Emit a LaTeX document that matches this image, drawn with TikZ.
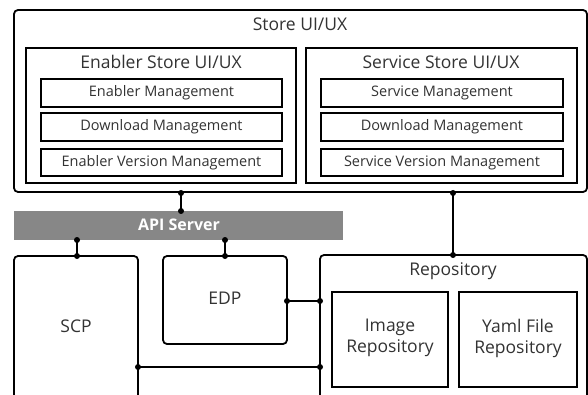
\documentclass[tikz,border=0pt]{standalone}
\usepackage{fontspec}
\setmainfont{Open Sans}
\begin{document}
\begin{tikzpicture}[x=1pt,y=-1pt,
  outerbox/.style={draw=black,line width=1.8pt,rounded corners=4pt},
  framebox/.style={draw=black,line width=2.2pt},
  itembox/.style={draw=black,line width=2.6pt},
  lbl/.style={text=black!80,font=\fontsize{14.5}{17}\selectfont},
  ttl/.style={text=black!80,font=\fontsize{17.5}{21}\selectfont},
  dot/.style={circle,fill=black,inner sep=0pt,minimum size=6pt},
  wire/.style={line width=1.8pt}]
\useasboundingbox (0,0) rectangle (588,395);
\fill[white] (0,0) rectangle (588,395);
\begin{scope}
\clip (0,0) rectangle (588,395);
% Store UI/UX frame
\draw[outerbox] (14,10) rectangle (587,192);
\node[ttl] (store) at (300,24) {Store UI/UX};
% Enabler store
\draw[framebox] (26,48) rectangle (296,183);
\node[ttl] (enst) at (161,62) {Enabler Store UI/UX};
\draw[itembox] (41,79) rectangle (282,107);
\node[lbl] (em) at (161.5,93) {Enabler Management};
\draw[itembox] (41,113) rectangle (282,141);
\node[lbl] (edm) at (161.5,127) {Download Management};
\draw[itembox] (41,149) rectangle (282,176);
\node[lbl] (evm) at (161.5,162.5) {Enabler Version Management};
% Service store
\draw[framebox] (306,48) rectangle (577,183);
\node[ttl] (svst) at (441,62) {Service Store UI/UX};
\draw[itembox] (321,79) rectangle (563,107);
\node[lbl] (sm) at (442,93) {Service Management};
\draw[itembox] (321,113) rectangle (563,141);
\node[lbl] (sdm) at (442,127) {Download Management};
\draw[itembox] (321,149) rectangle (563,176);
\node[lbl] (svm) at (442,162.5) {Service Version Management};
% API server bar
\fill[black!47] (14,211) rectangle (343,240);
\node[text=white,font=\bfseries\fontsize{16}{19}\selectfont] (api) at (179,225) {API Server};
% SCP
\draw[outerbox] (14,256) rectangle (138,420);
\node[ttl] (scp) at (76,326) {SCP};
% EDP
\draw[outerbox] (163,256) rectangle (287,344);
\node[ttl] (edp) at (225,298) {EDP};
% Repository
\draw[outerbox] (320,255) rectangle (587,420);
\node[ttl] (repo) at (453,271) {Repository};
\draw[framebox] (332,292) rectangle (448,387);
\node[ttl,align=center] (imgrepo) at (390,338) {Image\\Repository};
\draw[framebox] (459,292) rectangle (577,387);
\node[ttl,align=center] (yamlrepo) at (518,338) {Yaml File\\Repository};
% connection points
\node[dot] (a1) at (181,193) {};
\node[dot] (a2) at (181,211) {};
\node[dot] (b1) at (453,193) {};
\node[dot] (b2) at (453,255) {};
\node[dot] (c1) at (77,240) {};
\node[dot] (c2) at (77,256) {};
\node[dot] (d1) at (225,240) {};
\node[dot] (d2) at (225,256) {};
\node[dot] (e1) at (287,301) {};
\node[dot] (e2) at (320,301) {};
\node[dot] (f1) at (138,367) {};
\node[dot] (f2) at (320,367) {};
\draw[wire] (a1.center) -- (a2.center);
\draw[wire] (b1.center) -- (b2.center);
\draw[wire] (c1.center) -- (c2.center);
\draw[wire] (d1.center) -- (d2.center);
\draw[wire] (e1.center) -- (e2.center);
\draw[wire] (f1.center) -- (f2.center);
\end{scope}
\end{tikzpicture}
\end{document}
